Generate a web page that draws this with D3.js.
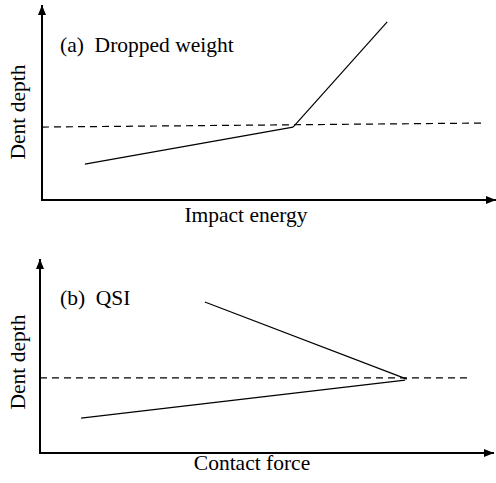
<!DOCTYPE html>
<html>
<head>
<meta charset="utf-8">
<script src="https://cdn.jsdelivr.net/npm/d3@7"></script>
<style>
  body { margin: 0; background: #fff; }
  text { font-family: "Liberation Serif", "DejaVu Serif", serif; fill: #000; white-space: pre; }
</style>
</head>
<body>
<div id="plot"></div>
<script>
// Width and height
const w = 496;
const h = 483;

// panel labels and axis titles
const panelLabels = ["(a)  Dropped weight", "(b)  QSI"];
const xTitles = ["Impact energy", "Contact force"];
const yTitle = "Dent depth";

// schematic lines, arbitrary units (0-100)
const aLower = [[9.7, 18.9], [56.8, 38.4]];
const aUpper = [[56.8, 38.4], [78.1, 93.7]];
const aDashed = [[0, 38.4], [100, 40.5]];

const bLower = [[9.3, 18.4], [82.6, 38.4]];
const bUpper = [[37.3, 79.5], [83.0, 38.9]];
const bDashed = [[0, 39.5], [97.3, 39.5]];

// panel layout in pixels
const panels = [
  {x0: 42, x1: 484, y0: 200, y1: 10, top: 5, right: 496, label: panelLabels[0], xlab: xTitles[0],
   lines: [aLower, aUpper], dashed: aDashed, lx: 60, ly: 52, xlx: 246, xly: 222, yly: 112},
  {x0: 40, x1: 482, y0: 453, y1: 263, top: 259, right: 494, label: panelLabels[1], xlab: xTitles[1],
   lines: [bLower, bUpper], dashed: bDashed, lx: 60, ly: 305, xlx: 252, xly: 470, yly: 362}
];

const svg = d3.select("div#plot")
  .append("svg")
    .attr("width", w)
    .attr("height", h);

svg.append("defs").append("marker")
  .attr("id", "arrow")
  .attr("viewBox", "0 0 10 8")
  .attr("refX", 10)
  .attr("refY", 4)
  .attr("markerWidth", 10)
  .attr("markerHeight", 8)
  .attr("markerUnits", "userSpaceOnUse")
  .attr("orient", "auto")
  .append("path")
    .attr("d", "M0,0 L10,4 L0,8 Z")
    .attr("fill", "#000");

panels.forEach(p => {
  const xScale = d3.scaleLinear().domain([0, 100]).range([p.x0, p.x1]);
  const yScale = d3.scaleLinear().domain([0, 100]).range([p.y0, p.y1]);
  const line = d3.line().x(d => xScale(d[0])).y(d => yScale(d[1]));

  const g = svg.append("g");

  // axes with arrows
  g.append("line")
    .attr("x1", p.x0).attr("y1", p.y0)
    .attr("x2", p.x0).attr("y2", p.top)
    .attr("stroke", "#000").attr("stroke-width", 2)
    .attr("marker-end", "url(#arrow)");
  g.append("line")
    .attr("x1", p.x0 - 1).attr("y1", p.y0)
    .attr("x2", p.right).attr("y2", p.y0)
    .attr("stroke", "#000").attr("stroke-width", 2)
    .attr("marker-end", "url(#arrow)");

  // dashed reference line
  g.append("path")
    .attr("d", line(p.dashed))
    .attr("fill", "none")
    .attr("stroke", "#000")
    .attr("stroke-width", 1.2)
    .attr("stroke-dasharray", "7,5");

  // solid lines
  g.selectAll("path.solid")
    .data(p.lines)
    .enter()
    .append("path")
      .attr("class", "solid")
      .attr("d", d => line(d))
      .attr("fill", "none")
      .attr("stroke", "#000")
      .attr("stroke-width", 1.2);

  // texts
  g.append("text")
    .attr("x", p.lx).attr("y", p.ly)
    .style("font-size", "21.5px")
    .text(p.label);
  g.append("text")
    .attr("x", p.xlx).attr("y", p.xly)
    .attr("text-anchor", "middle")
    .style("font-size", "21.5px")
    .text(p.xlab);
  g.append("text")
    .attr("transform", `translate(25, ${p.yly}) rotate(-90)`)
    .attr("text-anchor", "middle")
    .style("font-size", "21.5px")
    .text(yTitle);
});
</script>
</body>
</html>
